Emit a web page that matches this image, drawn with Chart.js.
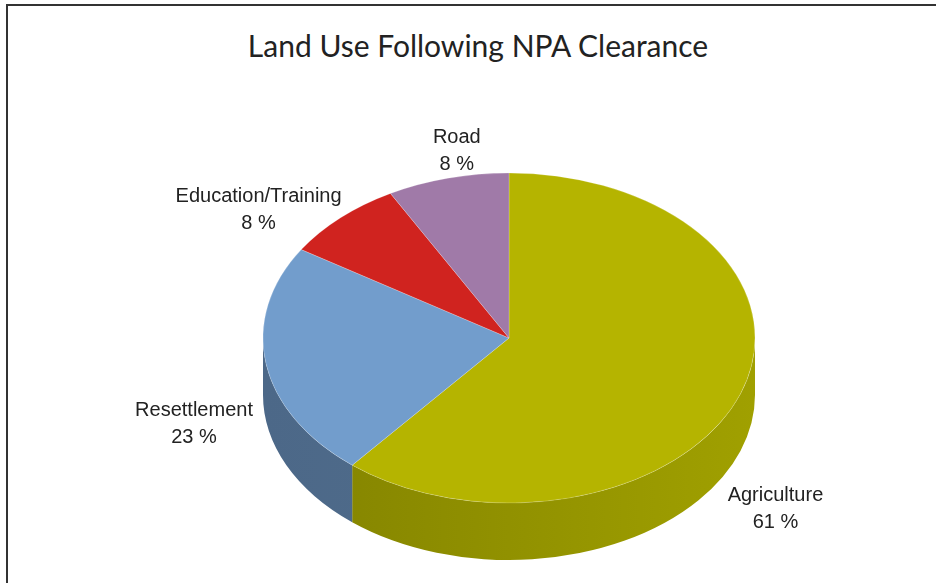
<!DOCTYPE html>
<html>
<head>
<meta charset="utf-8">
<script src="https://cdn.jsdelivr.net/npm/chart.js@4/dist/chart.umd.min.js"></script>
<style>
  body { margin: 0; background: #fff; }
  #wrap { position: relative; width: 936px; height: 583px; overflow: hidden; }
  #frame { position: absolute; left: 6px; top: 4px; right: -10px; bottom: -10px;
           border-left: 2px solid #333; border-top: 2px solid #333; }
  #title { position: absolute; left: 178px; top: 27px; width: 600px; text-align: center;
           font-family: Lato, sans-serif; font-size: 30px; color: #222; white-space: nowrap; }
  canvas { position: absolute; left: 0; top: 0; }
</style>
</head>
<body>
<div id="wrap">
  <div id="frame"></div>
  <div id="title">Land Use Following NPA Clearance</div>
  <canvas id="pieChart" width="936" height="583"></canvas>
</div>
<script>
  // Données
  const categories = ["Agriculture", "Resettlement", "Education/Training", "Road"];
  const shares = [61, 23, 8, 8];
  const topColors = ["#b5b400", "#729dcc", "#d0231f", "#a07aa8"];
  const sideColors = [["#828200", "#a0a000"], ["#4c6888", "#54718f"], ["#8e1614", "#8e1614"], ["#6e5474", "#6e5474"]];

  const tilt = 165 / 246;   // ellipse ratio
  const depth = 57;         // thickness of the pie in px
  // label offset from the slice middle point on the rim
  const labelOffsets = [[35, 115], [-72, 60], [-82, -8], [9, -27]];

  const pie3d = {
    id: "pie3d",
    beforeDatasetsDraw(chart) {
      const ctx = chart.ctx;
      const arcs = chart.getDatasetMeta(0).data;
      const cx = arcs[0].x, cy = arcs[0].y;
      ctx.save();
      ctx.translate(cx, cy);
      ctx.scale(1, tilt);
      ctx.translate(-cx, -cy);
      const d = depth / tilt;
      arcs.forEach((arc, i) => {
        const r = arc.outerRadius;
        // visible front part : angles 0..PI (and 2PI..3PI)
        [[0, Math.PI], [2 * Math.PI, 3 * Math.PI]].forEach(([lo, hi]) => {
          const a = Math.max(arc.startAngle, lo);
          const b = Math.min(arc.endAngle, hi);
          if (b <= a) return;
          const g = ctx.createLinearGradient(cx - r, 0, cx + r, 0);
          g.addColorStop(0, sideColors[i][0]);
          g.addColorStop(1, sideColors[i][1]);
          ctx.beginPath();
          ctx.arc(cx, cy, r, a, b);
          ctx.arc(cx, cy + d, r, b, a, true);
          ctx.closePath();
          ctx.fillStyle = g;
          ctx.fill();
        });
      });
    },
    afterDatasetsDraw(chart) {
      chart.ctx.restore();
    },
    afterDraw(chart) {
      const ctx = chart.ctx;
      const arcs = chart.getDatasetMeta(0).data;
      ctx.save();
      ctx.font = "20px 'Liberation Sans', sans-serif";
      ctx.fillStyle = "#222";
      ctx.textAlign = "center";
      ctx.textBaseline = "middle";
      arcs.forEach((arc, i) => {
        const m = (arc.startAngle + arc.endAngle) / 2;
        const x = arc.x + arc.outerRadius * Math.cos(m) + labelOffsets[i][0];
        const y = arc.y + arc.outerRadius * tilt * Math.sin(m) + labelOffsets[i][1];
        ctx.fillText(categories[i], x, y - 13.5);
        ctx.fillText(shares[i] + " %", x, y + 13.5);
      });
      ctx.restore();
    },
  };

  new Chart(document.getElementById("pieChart"), {
    type: "pie",
    data: {
      labels: categories,
      datasets: [
        {
          data: shares,
          backgroundColor: topColors,
          borderColor: "rgba(255,255,255,0.25)",
          borderWidth: 1,
          radius: 246,
        },
      ],
    },
    options: {
      responsive: false,
      animation: false,
      layout: { padding: { left: 82, right: 0, top: 93, bottom: 0 } },
      plugins: {
        legend: { display: false },
        tooltip: { enabled: false },
      },
    },
    plugins: [pie3d],
  });
</script>
</body>
</html>
